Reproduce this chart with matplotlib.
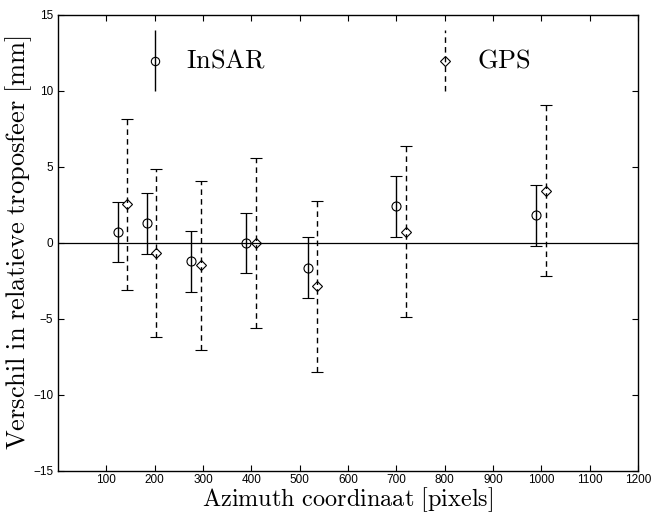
import matplotlib
matplotlib.use('Agg')
import matplotlib.pyplot as plt

plt.rcParams['mathtext.fontset'] = 'cm'
plt.rcParams['font.family'] = ['Liberation Sans', 'DejaVu Sans']

# InSAR points
insar_x = [124, 184, 276, 389, 517, 700, 990]
insar_y = [0.72, 1.29, -1.21, 0.0, -1.64, 2.41, 1.83]
insar_err = [2.0, 2.0, 2.0, 2.0, 2.0, 2.0, 2.0]

# GPS points
gps_x = [143, 203, 296, 409, 537, 720, 1010]
gps_y = [2.53, -0.66, -1.48, 0.02, -2.85, 0.74, 3.43]
gps_err = [5.6, 5.55, 5.57, 5.6, 5.62, 5.61, 5.62]

xticks = [100, 200, 300, 400, 500, 600, 700, 800, 900, 1000, 1100, 1200]
yticks = [-15, -10, -5, 0, 5, 10, 15]


def main():
    fig = plt.figure(figsize=(6.53, 5.13), dpi=100)
    ax = fig.add_axes([0.0888, 0.0819, 0.888, 0.889])

    ax.axhline(0, color='black', lw=0.9)

    eb = ax.errorbar(insar_x, insar_y, yerr=insar_err, fmt='o', mfc='none', mec='black',
                     ms=6.5, mew=0.8, ecolor='black', elinewidth=1.0, capsize=4, capthick=1.0)
    eb = ax.errorbar(gps_x, gps_y, yerr=gps_err, fmt='D', mfc='none', mec='black',
                     ms=5, mew=0.8, ecolor='black', elinewidth=1.0, capsize=4, capthick=1.0)
    eb[2][0].set_linestyle((0, (4, 3)))

    # legend drawn by hand
    ax.errorbar([200], [12], yerr=[2], fmt='o', mfc='none', mec='black', ms=6, mew=0.8,
                ecolor='black', elinewidth=1.0, capsize=0)
    leg = ax.errorbar([800], [12], yerr=[2], fmt='D', mfc='none', mec='black', ms=5, mew=0.8,
                      ecolor='black', elinewidth=1.0, capsize=0)
    leg[2][0].set_linestyle((0, (4, 3)))
    ax.text(265, 12, r'$\mathrm{InSAR}$', fontsize=19, va='center', ha='left')
    ax.text(867, 12, r'$\mathrm{GPS}$', fontsize=19, va='center', ha='left')

    ax.set_xlim(0, 1200)
    ax.set_ylim(-15, 15)
    ax.set_xticks(xticks)
    ax.set_yticks(yticks)
    ax.tick_params(direction='in', length=4, width=0.8, labelsize=8.5,
                   top=True, right=True)
    ax.tick_params(axis='x', pad=2.5)
    for s in ax.spines.values():
        s.set_linewidth(1.0)

    ax.set_xlabel(r'$\mathrm{Azimuth\ coordinaat\ [pixels]}$', fontsize=17.5, labelpad=-1)
    ax.set_ylabel(r'$\mathrm{Verschil\ in\ relatieve\ troposfeer\ [mm]}$', fontsize=19, labelpad=-1)

    fig.savefig('out.png', dpi=100)


if __name__ == '__main__':
    main()
